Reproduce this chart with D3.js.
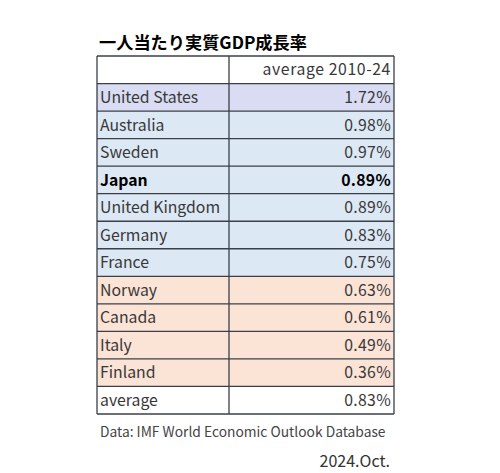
<!DOCTYPE html>
<html>
<head>
<meta charset="utf-8">
<script src="https://cdn.jsdelivr.net/npm/d3@7"></script>
<style>
  body { margin: 0; background: #fff; }
  svg { display: block; }
</style>
</head>
<body>
<svg id="chart"></svg>
<script>
// data
const countries = ["United States", "Australia", "Sweden", "Japan", "United Kingdom", "Germany", "France", "Norway", "Canada", "Italy", "Finland", "average"];
const growth = [1.72, 0.98, 0.97, 0.89, 0.89, 0.83, 0.75, 0.63, 0.61, 0.49, 0.36, 0.83];
const groups = ["top", "above", "above", "above", "above", "above", "above", "below", "below", "below", "below", "avg"];
const titleText = "一人当たり実質GDP成長率";
const headerText = "average 2010-24";
const sourceText = "Data: IMF World Economic Outlook Database";
const dateText = "2024.Oct.";

const w = 500, h = 473;
const tableLeft = 97, tableRight = 394, divider = 229;
const tableTop = 56, tableBottom = 414;
const font = "'Noto Sans CJK JP', 'Noto Sans', sans-serif";

const fillFor = {top: "#d9dcf2", above: "#dde8f5", below: "#fbe3d6", avg: "#ffffff"};

const svg = d3.select("#chart").attr("width", w).attr("height", h);

// header row + one row per country
const rowKeys = ["header"].concat(countries);
const y = d3.scaleBand().domain(rowKeys).range([tableTop, tableBottom]);

const rows = svg.selectAll("g.row")
  .data(rowKeys)
  .enter()
  .append("g")
  .attr("class", "row")
  .attr("transform", d => `translate(0, ${y(d)})`);

rows.append("rect")
  .attr("x", tableLeft)
  .attr("width", tableRight - tableLeft)
  .attr("height", y.bandwidth())
  .style("fill", (d, i) => i === 0 ? "#ffffff" : fillFor[groups[i - 1]]);

// labels
rows.filter(d => d !== "header").append("text")
  .attr("x", tableLeft + 3)
  .attr("y", y.bandwidth() / 2)
  .attr("dy", "0.36em")
  .text(d => d)
  .style("font-family", font)
  .style("font-size", "15.8px")
  .style("font-weight", d => d === "Japan" ? "bold" : "normal")
  .style("fill", d => d === "Japan" ? "#000" : "#383838");

rows.append("text")
  .attr("x", tableRight - 3)
  .attr("y", y.bandwidth() / 2)
  .attr("dy", "0.36em")
  .attr("text-anchor", "end")
  .text((d, i) => i === 0 ? headerText : growth[i - 1].toFixed(2) + "%")
  .style("font-family", font)
  .style("font-size", "15.8px")
  .style("letter-spacing", (d, i) => i === 0 ? "0.6px" : "0.3px")
  .style("font-weight", d => d === "Japan" ? "bold" : "normal")
  .style("fill", d => d === "Japan" ? "#000" : "#383838");

// grid lines
const lineColor = "#3a3f48";
svg.selectAll("line.h")
  .data(rowKeys.concat(["end"]))
  .enter()
  .append("line")
  .attr("x1", tableLeft).attr("x2", tableRight)
  .attr("y1", d => d === "end" ? tableBottom : y(d))
  .attr("y2", d => d === "end" ? tableBottom : y(d))
  .style("stroke", lineColor)
  .style("stroke-width", 1.3);

[tableLeft, divider, tableRight].forEach(x => {
  svg.append("line")
    .attr("x1", x).attr("x2", x)
    .attr("y1", tableTop).attr("y2", tableBottom)
    .style("stroke", lineColor)
    .style("stroke-width", 1.3);
});

// title
svg.append("text")
  .attr("x", 99)
  .attr("y", 49)
  .text(titleText)
  .style("font-family", font)
  .style("font-size", "17.2px")
  .style("font-weight", "bold")
  .style("fill", "#000");

// source note
svg.append("text")
  .attr("x", 100)
  .attr("y", 437)
  .text(sourceText)
  .style("font-family", font)
  .style("font-size", "13.8px")
  .style("fill", "#444");

svg.append("text")
  .attr("x", 390)
  .attr("y", 467)
  .attr("text-anchor", "end")
  .text(dateText)
  .style("font-family", font)
  .style("font-size", "16px")
  .style("fill", "#333");
</script>
</body>
</html>
